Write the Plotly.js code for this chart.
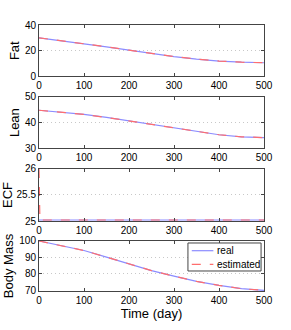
<!DOCTYPE html>
<html><head><meta charset="utf-8">
<script src="https://cdn.plot.ly/plotly-3.0.1.min.js"></script>
<style>html,body{margin:0;padding:0;background:#fff;}#c{width:291px;height:330px;}</style>
</head><body><div id="c"></div>
<script>
const days = [0, 50, 100, 150, 200, 250, 300, 350, 400, 450, 500];
const fatReal = [30.0, 27.8, 25.6, 23.0, 20.4, 17.8, 15.4, 13.4, 11.9, 11.0, 10.6];
const fatEst  = [30.0, 27.8, 25.6, 23.0, 20.4, 17.8, 15.4, 13.4, 11.9, 11.0, 10.6];
const leanReal = [44.8, 44.1, 43.2, 42.0, 40.7, 39.3, 37.9, 36.5, 35.3, 34.5, 34.2];
const leanEst  = [44.8, 44.1, 43.2, 42.0, 40.7, 39.3, 37.9, 36.5, 35.3, 34.5, 34.2];
const ecfDays = [0, 2, 500];
const ecfReal = [25.02, 25.02, 25.02];
const ecfEst  = [26.0, 25.02, 25.02];
const bmReal = [100.0, 97.2, 94.2, 90.2, 86.0, 82.0, 78.6, 75.5, 73.0, 71.0, 70.0];
const bmEst  = [100.0, 97.2, 94.2, 90.2, 86.0, 82.0, 78.6, 75.5, 73.0, 71.0, 70.0];
const xTicks = [0, 100, 200, 300, 400, 500];
const seriesNames = ['real', 'estimated'];

const blue = 'rgb(140,140,255)';
const red = 'rgb(255,110,110)';
const axisColor = '#444';

function pair(x, yr, ye, ax) {
  const xa = ax === 1 ? 'x' : 'x' + ax;
  const ya = ax === 1 ? 'y' : 'y' + ax;
  return [
    {x: x, y: yr, xaxis: xa, yaxis: ya, mode: 'lines', name: seriesNames[0],
     line: {color: blue, width: 1.2}},
    {x: x, y: ye, xaxis: xa, yaxis: ya, mode: 'lines', name: seriesNames[1],
     line: {color: red, width: 1.2, dash: 'dash'}}
  ];
}
const data = [].concat(
  pair(days, fatReal, fatEst, 1),
  pair(days, leanReal, leanEst, 2),
  pair(ecfDays, ecfReal, ecfEst, 3),
  pair(days, bmReal, bmEst, 4)
);

const tf = {family: 'Liberation Sans, Arial, sans-serif', size: 10, color: '#000'};
const titleFont = {family: 'Liberation Sans, Arial, sans-serif', size: 13, color: '#000'};
function xax(anchor, title) {
  const a = {domain: [0, 1], range: [0, 500], anchor: anchor, tickvals: xTicks,
    ticks: 'inside', ticklen: 3, tickcolor: axisColor, showline: true, linecolor: axisColor, linewidth: 1,
    mirror: 'ticks', showgrid: false, zeroline: false, tickfont: tf};
  if (title) a.title = {text: title, font: titleFont, standoff: 2};
  return a;
}
function yax(anchor, dom, range, vals, text, title) {
  return {domain: dom, range: range, anchor: anchor, tickvals: vals, ticktext: text,
    ticks: 'inside', ticklen: 3, tickcolor: axisColor, showline: true, linecolor: axisColor, linewidth: 1,
    mirror: 'ticks', showgrid: true, gridcolor: '#c8c8c8', griddash: '1px,3px', gridwidth: 1,
    zeroline: false, tickfont: tf, title: {text: title, font: titleFont, standoff: 2}};
}

// legend box drawn in paper space (inside Body Mass panel)
const lg = {x0: 0.662, x1: 0.987, y0: 0.0752, y1: 0.1805, sx0: 0.679, sx1: 0.775, tx: 0.782, rows: [0.1515, 0.1003]};
const shapes = [
  {type: 'rect', xref: 'paper', yref: 'paper', x0: lg.x0, x1: lg.x1, y0: lg.y0, y1: lg.y1,
   line: {color: axisColor, width: 1}, fillcolor: '#fff', layer: 'above'},
  {type: 'line', xref: 'paper', yref: 'paper', x0: lg.sx0, x1: lg.sx1, y0: lg.rows[0], y1: lg.rows[0],
   line: {color: blue, width: 1.2}, layer: 'above'},
  {type: 'line', xref: 'paper', yref: 'paper', x0: lg.sx0, x1: lg.sx1, y0: lg.rows[1], y1: lg.rows[1],
   line: {color: red, width: 1.2, dash: 'dash'}, layer: 'above'}
];
const annotations = seriesNames.map((n, i) => ({
  xref: 'paper', yref: 'paper', x: lg.tx, y: lg.rows[i], xanchor: 'left', yanchor: 'middle',
  text: n, showarrow: false, font: tf
}));

const layout = {
  width: 291, height: 330,
  margin: {l: 39, r: 27, t: 25, b: 39},
  paper_bgcolor: '#fff', plot_bgcolor: '#fff',
  showlegend: false,
  shapes: shapes, annotations: annotations,
  xaxis: xax('y'),
  yaxis: yax('x', [0.807, 1.0], [0, 40], [0, 20, 40], ['0', '20', '40'], 'Fat'),
  xaxis2: xax('y2'),
  yaxis2: yax('x2', [0.536, 0.730], [30, 50], [30, 40, 50], ['30', '40', '50'], 'Lean'),
  xaxis3: xax('y3'),
  yaxis3: yax('x3', [0.263, 0.459], [25, 26], [25, 25.5, 26], ['25', '25.5', '26'], 'ECF'),
  xaxis4: xax('y4', 'Time (day)'),
  yaxis4: yax('x4', [0, 0.188], [69.6, 100], [70, 80, 90, 100], ['70', '80', '90', '100'], 'Body Mass')
};
Plotly.newPlot('c', data, layout, {displayModeBar: false, staticPlot: true});
</script></body></html>
